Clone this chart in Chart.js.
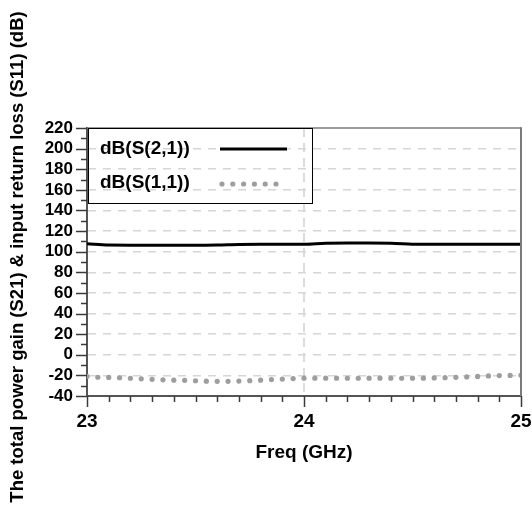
<!DOCTYPE html>
<html>
<head>
<meta charset="utf-8">
<script src="https://cdn.jsdelivr.net/npm/chart.js@4/dist/chart.umd.min.js"></script>
<style>
  html, body { margin: 0; padding: 0; background: #fff; }
  canvas { display: block; }
</style>
</head>
<body>
<canvas id="c" width="532" height="521"></canvas>
<script>
// Frequency sweep (GHz) for the gain trace
const freqS21 = [23.0, 23.1, 23.2, 23.3, 23.4, 23.5, 23.6, 23.7, 23.8, 23.9, 24.0,
                 24.1, 24.2, 24.3, 24.4, 24.5, 24.6, 24.7, 24.8, 24.9, 25.0];
// Total power gain dB(S(2,1))
const s21 = [107.7, 106.4, 106.3, 106.3, 106.3, 106.3, 106.5, 107.0, 107.1, 107.1, 107.2,
             108.2, 108.4, 108.4, 108.3, 107.3, 107.1, 107.1, 107.1, 107.1, 107.1];

// Frequency sweep (GHz) for the return-loss trace
const freqS11 = [23.00, 23.05, 23.10, 23.15, 23.20, 23.25, 23.30, 23.35, 23.40, 23.45,
                 23.50, 23.55, 23.60, 23.65, 23.70, 23.75, 23.80, 23.85, 23.90, 23.95,
                 24.00, 24.05, 24.10, 24.15, 24.20, 24.25, 24.30, 24.35, 24.40, 24.45,
                 24.50, 24.55, 24.60, 24.65, 24.70, 24.75, 24.80, 24.85, 24.90, 24.95, 25.00];
// Input return loss dB(S(1,1))
const s11 = [-21.0, -21.8, -22.0, -22.3, -22.8, -23.3, -23.8, -24.3, -24.6, -24.8,
             -25.2, -25.6, -25.8, -25.8, -25.5, -25.1, -24.6, -24.1, -23.6, -23.1,
             -22.7, -22.7, -22.7, -22.7, -22.8, -22.8, -22.7, -22.7, -22.7, -22.8,
             -22.7, -22.7, -22.5, -22.2, -21.9, -21.5, -21.0, -20.5, -20.2, -20.0, -19.8];

// Axis ranges and tick labels
const xRange = [23, 25];
const xTickLabels = ['23', '24', '25'];
const yRange = [-40, 220];
const yTickLabels = ['-40', '-20', '0', '20', '40', '60', '80', '100', '120', '140', '160', '180', '200', '220'];

const seriesNames = ['dB(S(2,1))', 'dB(S(1,1))'];
const xTitle = 'Freq (GHz)';
const yTitle = 'The total power gain (S21) & input return loss (S11) (dB)';

const FONT = 'Liberation Sans, Arial, sans-serif';
Chart.defaults.font.family = FONT;
Chart.defaults.font.weight = 'bold';
Chart.defaults.color = '#000';

const near = (a, b) => Math.abs(a - b) < 1e-6;
const isMajorY = v => near(v / 20, Math.round(v / 20));
const isMajorX = v => near(v, Math.round(v));

// Tick marks (major/minor), plot frame, axis titles and legend box
const decor = {
  id: 'decor',
  afterDraw(chart) {
    const { ctx, chartArea: a, scales: { x, y } } = chart;
    ctx.save();
    // frame: top and right edges
    ctx.strokeStyle = '#7a7a7a';
    ctx.lineWidth = 1.5;
    ctx.beginPath();
    ctx.moveTo(a.left, a.top);
    ctx.lineTo(a.right, a.top);
    ctx.stroke();
    ctx.lineWidth = 2;
    ctx.beginPath();
    ctx.moveTo(a.right, a.top - 0.75);
    ctx.lineTo(a.right, a.bottom);
    ctx.stroke();

    // tick marks
    ctx.strokeStyle = '#3a3a3a';
    ctx.lineWidth = 1.5;
    y.ticks.forEach(t => {
      const py = Math.round(y.getPixelForValue(t.value)) + 0.5;
      const len = isMajorY(t.value) ? 11 : 6;
      ctx.beginPath();
      ctx.moveTo(a.left - len, py);
      ctx.lineTo(a.left, py);
      ctx.stroke();
    });
    x.ticks.forEach(t => {
      const px = Math.round(x.getPixelForValue(t.value)) + 0.5;
      const len = isMajorX(t.value) ? 11 : 6;
      ctx.beginPath();
      ctx.moveTo(px, a.bottom);
      ctx.lineTo(px, a.bottom + len);
      ctx.stroke();
    });

    // axis titles
    ctx.fillStyle = '#000';
    ctx.textAlign = 'center';
    ctx.textBaseline = 'middle';
    ctx.font = 'bold 19px ' + FONT;
    ctx.fillText(xTitle, (a.left + a.right) / 2, 453);
    ctx.save();
    ctx.translate(18, 257);
    ctx.rotate(-Math.PI / 2);
    ctx.font = 'bold 18.5px ' + FONT;
    ctx.fillText(yTitle, 0, 0);
    ctx.restore();

    // legend box
    const bx = a.left + 1, by = a.top, bw = 224, bh = 75;
    ctx.strokeStyle = '#000';
    ctx.lineWidth = 1;
    ctx.strokeRect(bx + 0.5, by + 0.5, bw, bh);
    ctx.font = 'bold 19px ' + FONT;
    ctx.textAlign = 'left';
    const ds = chart.data.datasets;
    const rows = [by + 21, by + 55];
    ds.forEach((d, i) => {
      ctx.fillStyle = '#000';
      ctx.fillText(d.label, bx + 12, rows[i]);
      if (d.showLine !== false) {
        ctx.strokeStyle = d.borderColor;
        ctx.lineWidth = d.borderWidth;
        ctx.beginPath();
        ctx.moveTo(bx + 132, rows[i]);
        ctx.lineTo(bx + 199, rows[i]);
        ctx.stroke();
      } else {
        ctx.fillStyle = d.pointBackgroundColor;
        for (let k = 0; k < 6; k++) {
          ctx.beginPath();
          ctx.arc(bx + 134 + k * 10.8, rows[i] + 1, d.pointRadius, 0, Math.PI * 2);
          ctx.fill();
        }
      }
    });
    ctx.restore();
  }
};

new Chart(document.getElementById('c'), {
  type: 'scatter',
  data: {
    datasets: [
      {
        label: seriesNames[0],
        data: freqS21.map((f, i) => ({ x: f, y: s21[i] })),
        showLine: true,
        borderColor: '#000',
        borderWidth: 3,
        pointRadius: 0,
        cubicInterpolationMode: 'monotone'
      },
      {
        label: seriesNames[1],
        data: freqS11.map((f, i) => ({ x: f, y: s11[i] })),
        showLine: false,
        pointRadius: 2.6,
        pointBackgroundColor: '#9e9e9e',
        pointBorderWidth: 0,
        borderColor: '#9e9e9e'
      }
    ]
  },
  options: {
    responsive: false,
    animation: false,
    layout: { padding: { left: 0, top: 128, right: 11, bottom: 0 } },
    plugins: { legend: { display: false }, tooltip: { enabled: false } },
    scales: {
      x: {
        type: 'linear',
        min: xRange[0],
        max: xRange[1],
        afterFit: s => { s.height = 125; s.paddingLeft = 0; s.paddingRight = 0; },
        ticks: {
          stepSize: 0.1,
          autoSkip: false,
          maxRotation: 0,
          padding: 14,
          font: { size: 19, weight: 'bold' },
          color: '#000',
          callback: v => {
            const idx = xTickLabels.indexOf(String(Math.round(v)));
            return isMajorX(v) && idx >= 0 ? xTickLabels[idx] : '';
          }
        },
        grid: {
          drawTicks: false,
          lineWidth: 2,
          color: c => (c.tick && near(c.tick.value, 24)) ? '#dcdcdc' : 'transparent'
        },
        border: { display: true, color: '#555', width: 2, dash: [9, 6] }
      },
      y: {
        type: 'linear',
        min: yRange[0],
        max: yRange[1],
        afterFit: s => { s.width = 87; s.paddingTop = 0; s.paddingBottom = 0; },
        ticks: {
          stepSize: 10,
          autoSkip: false,
          padding: 14,
          font: { size: 17, weight: 'bold' },
          color: '#000',
          callback: v => {
            const idx = yTickLabels.indexOf(String(Math.round(v)));
            return isMajorY(v) && idx >= 0 ? yTickLabels[idx] : '';
          }
        },
        grid: {
          drawTicks: false,
          lineWidth: 1.5,
          color: c => {
            const v = c.tick ? c.tick.value : NaN;
            return (isMajorY(v) && v > yRange[0] && v < yRange[1]) ? '#d6d6d6' : 'transparent';
          }
        },
        border: { display: true, color: '#555', width: 2, dash: [8, 7] }
      }
    }
  },
  plugins: [decor]
});
</script>
</body>
</html>
